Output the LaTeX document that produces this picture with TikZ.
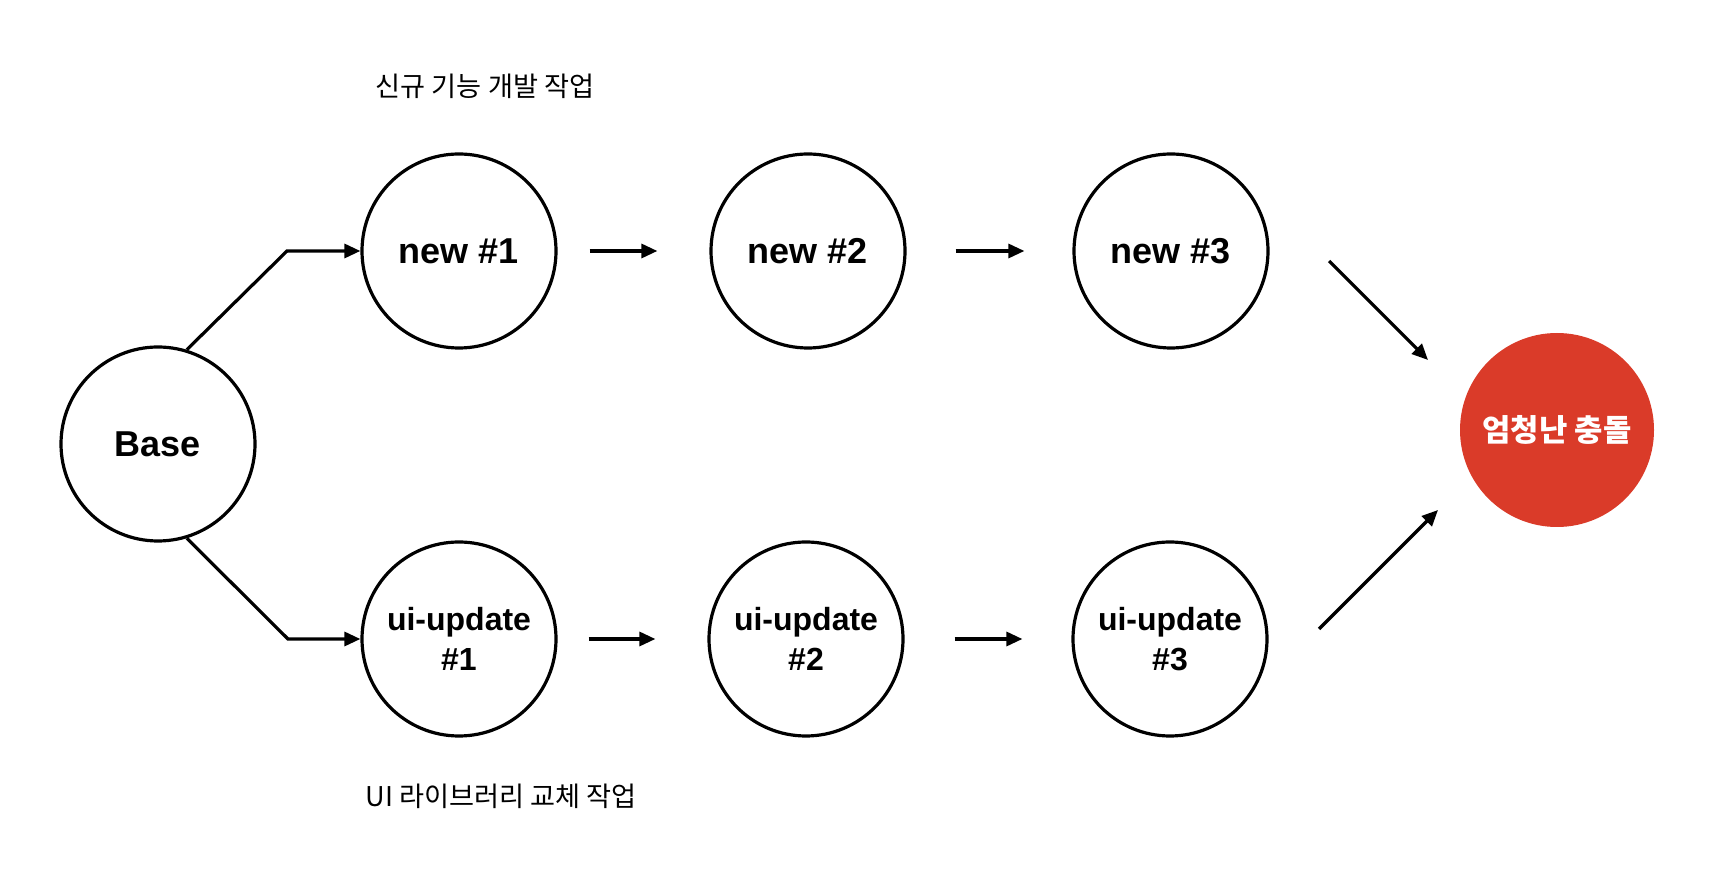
\documentclass[tikz,border=0pt]{standalone}
\usepackage{fontspec}
\setmainfont{Liberation Sans}
\newfontfamily\kr{Noto Sans CJK KR}
\usepackage{xcolor}
\usetikzlibrary{arrows.meta, positioning, calc}
\definecolor{clashred}{HTML}{DA3B29}

\begin{document}
\begin{tikzpicture}[x=0.5pt, y=-0.5pt, >={Triangle[length=8pt,width=7pt]},
    every node/.style={font=\fontsize{18}{22.5}\selectfont\bfseries},
    commit/.style={circle, draw, line width=1.6pt, minimum size=97pt, inner sep=0pt, align=center},
    small/.style={font=\fontsize{16}{20}\selectfont\bfseries},
    arr/.style={->, line width=1.6pt},
    note/.style={font=\kr\fontsize{13.6}{17}\selectfont}]
  \useasboundingbox (0,0) rectangle (1736,892);
  % commits
  \node[commit] (base) at (158,444) {Base};
  \node[commit] (new1) at (459,251) {new \#1};
  \node[commit] (new2) at (808,251) {new \#2};
  \node[commit] (new3) at (1171,251) {new \#3};
  \node[commit, small] (ui1) at (459,639) {ui-update\\\#1};
  \node[commit, small] (ui2) at (806,639) {ui-update\\\#2};
  \node[commit, small] (ui3) at (1170,639) {ui-update\\\#3};
  \node[commit, draw=none, fill=clashred, text=white, font=\kr\fontsize{15.4}{18}\selectfont\bfseries] (clash) at (1557,430) {엄청난 충돌};
  % branch labels
  \node[note] (toplabel) at (485,86) {신규 기능 개발 작업};
  \node[note] (botlabel) at (501,796) {UI 라이브러리 교체 작업};
  % branching
  \coordinate (upbend) at (287,251);
  \coordinate (lowbend) at (288,639);
  \draw[arr] (base.73) -- (upbend) -- (new1.west);
  \draw[arr] (base.-73) -- (lowbend) -- (ui1.west);
  % history
  \draw[arr, shorten <=16pt, shorten >=26pt] (new1) -- (new2);
  \draw[arr, shorten <=24.5pt, shorten >=24pt] (new2) -- (new3);
  \draw[arr, shorten <=15.5pt, shorten >=26pt] (ui1) -- (ui2);
  \draw[arr, shorten <=25pt, shorten >=24.5pt] (ui2) -- (ui3);
  % merge
  \coordinate (upfrom) at (1329,261);
  \coordinate (upto) at (1428,360);
  \coordinate (lowfrom) at (1319,629);
  \coordinate (lowto) at (1438,510);
  \draw[arr] (upfrom) -- (upto);
  \draw[arr] (lowfrom) -- (lowto);
\end{tikzpicture}
\end{document}
